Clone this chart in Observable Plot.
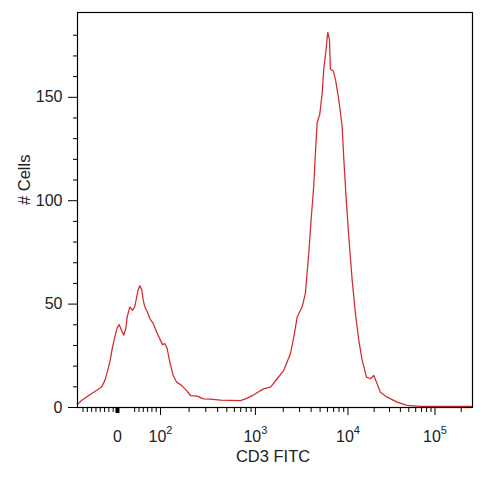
<!DOCTYPE html>
<html>
<head>
<meta charset="utf-8">
<script src="https://cdn.jsdelivr.net/npm/d3@7"></script>
<script src="https://cdn.jsdelivr.net/npm/@observablehq/plot@0.6"></script>
<style>
  html, body { margin: 0; padding: 0; background: #fff; }
</style>
</head>
<body>
<div id="chart"></div>
<script>
// Histogram: display channel (0–256 over the biexponential display range) and cell counts
const channels = [0, 2.6, 8.0, 12.3, 15.6, 17.7, 19.9, 21.4, 22.7, 24.2, 25.7, 27.0, 28.5, 30.0, 31.3, 32.2, 33.9, 35.6, 37.1, 38.2, 39.3, 40.4, 41.7, 42.6, 43.6, 45.2, 46.9, 49.1, 51.2, 53.3, 55.1, 56.6, 58.1, 59.8, 62.0, 64.2, 67.4, 70.6, 73.2, 77.6, 81.6, 86.2, 92.7, 105.6, 108.9, 114.0, 120.5, 125.1, 129.4, 133.7, 138.0, 140.2, 142.4, 145.6, 147.7, 149.9, 151.4, 153.1, 154.2, 155.3, 157.0, 158.6, 159.6, 160.9, 162.2, 163.3, 163.9, 165.7, 167.2, 169.3, 171.5, 172.6, 174.3, 175.8, 178.0, 180.1, 182.3, 184.5, 187.3, 189.9, 192.0, 194.2, 196.3, 200.7, 207.2, 213.6, 222.3, 256];
const counts = [1.5, 3.4, 6.2, 8.2, 9.9, 13, 18.8, 23.6, 29.3, 34.1, 38.5, 40.1, 37.4, 35, 38.2, 43.8, 48.7, 47, 48.7, 52.8, 56.8, 58.9, 56.8, 51.9, 48.7, 46.3, 43, 40.6, 36.6, 33.3, 30.4, 30.9, 28.5, 22, 15.5, 12.3, 10.7, 8.3, 5.8, 5.5, 4.2, 4.0, 3.6, 3.3, 4.2, 6.0, 9.0, 9.9, 13.9, 18, 26, 34.1, 43.8, 48.7, 55.2, 74.6, 90.8, 107, 123, 137.7, 141.7, 152.3, 163.6, 171.7, 181.4, 178, 163.6, 162.8, 158.7, 149, 136, 120, 98.9, 82.7, 61.7, 45.5, 32.5, 22.8, 14.7, 13.9, 15.5, 11.5, 7.4, 5, 2.6, 1, 0.5, 0.5];

// X axis (fluorescence values) and labels
const xMajorValues = [100, 1000, 10000, 100000];
const xMajorLabels = ["10²", "10³", "10⁴", "10⁵"];
const xZeroValue = [0];
const xZeroLabel = ["0"];
const xMinorValues = [-80, -70, -60, -50, -40, -30, -20, -10, 40, 50, 60, 70, 80, 90,
  200, 300, 400, 500, 600, 700, 800, 900,
  2000, 3000, 4000, 5000, 6000, 7000, 8000, 9000,
  20000, 30000, 40000, 50000, 60000, 70000, 80000, 90000, 200000];

// Y axis ticks
const yMajorTicks = [0, 50, 100, 150];
const yMinorTicks = [10, 20, 30, 40, 60, 70, 80, 90, 110, 120, 130, 140, 160, 170, 180];

const xLabel = "CD3 FITC";
const yLabel = "# Cells";

// Biexponential display transform: linear near zero, logarithmic per decade above 10²
const displayTransform = {
  linearChannels: [25.9, 53.8],          // channels of 0 and 10²
  decadeLogs: [2, 3, 4, 5],
  decadeChannels: [53.8, 115.3, 175.3, 231.7]
};
const logPart = d3.scaleLinear().domain(displayTransform.decadeLogs).range(displayTransform.decadeChannels);
function toChannel(v) {
  const [c0, c100] = displayTransform.linearChannels;
  if (v <= 100) return c0 + v * (c100 - c0) / 100;
  return logPart(Math.log10(v));
}

const data = channels.map((c, i) => ({channel: c, count: counts[i]}));
const majorLabelMap = new Map(xMajorValues.map((v, i) => [toChannel(v), xMajorLabels[i]]));
const zeroLabelMap = new Map(xZeroValue.map((v, i) => [toChannel(v), xZeroLabel[i]]));

const font = "Liberation Sans, Arial, sans-serif";
const textColor = "#222";

const chart = Plot.plot({
  width: 485,
  height: 480,
  marginLeft: 77,
  marginRight: 13,
  marginTop: 12,
  marginBottom: 73,
  style: {fontFamily: font, fontSize: "16px", color: "#000", background: "#fff"},
  x: {domain: [0, 256], axis: null},
  y: {domain: [0, 191], axis: null},
  marks: [
    Plot.line(data, {x: "channel", y: "count", stroke: "#d42a2a", strokeWidth: 1.25}),
    Plot.frame({stroke: "#000", strokeWidth: 1.2}),
    // Y axis
    Plot.axisY(yMajorTicks, {tickSize: 9, tickPadding: 6, fontSize: 16, label: null, fill: textColor, stroke: "#000"}),
    Plot.axisY(yMinorTicks, {tickSize: 4, tickFormat: () => "", label: null, stroke: "#000"}),
    // X axis
    Plot.axisX(xMinorValues.map(toChannel), {tickSize: 5, tickFormat: () => "", label: null, stroke: "#000"}),
    Plot.axisX(xMajorValues.map(toChannel), {tickSize: 8, tickPadding: 15, tickFormat: d => majorLabelMap.get(d), fontSize: 16, label: null, fill: textColor, stroke: "#000"}),
    Plot.axisX(xZeroValue.map(toChannel), {tickSize: 6, strokeWidth: 4, tickPadding: 17, tickFormat: d => zeroLabelMap.get(d), fontSize: 16, label: null, fill: textColor, stroke: "#000"}),
    // Axis titles
    Plot.text([xLabel], {frameAnchor: "bottom", dy: 54, dx: -2, fontSize: 16.5, fill: textColor}),
    Plot.text([yLabel], {frameAnchor: "left", dx: -53, dy: -5, rotate: -90, fontSize: 16.5, fill: textColor})
  ]
});

// Render superscript exponents as raised, smaller digits
const supChars = "⁰¹²³⁴⁵⁶⁷⁸⁹";
chart.querySelectorAll("text").forEach((t) => {
  const s = t.textContent;
  const m = s.match(/^(\d+)([⁰¹²³⁴⁵⁶⁷⁸⁹]+)$/);
  if (!m) return;
  t.textContent = m[1];
  const sup = document.createElementNS("http://www.w3.org/2000/svg", "tspan");
  sup.setAttribute("dy", "-8");
  sup.setAttribute("font-size", "11");
  sup.textContent = [...m[2]].map((ch) => String(supChars.indexOf(ch))).join("");
  t.appendChild(sup);
});

document.getElementById("chart").appendChild(chart);
</script>
</body>
</html>
